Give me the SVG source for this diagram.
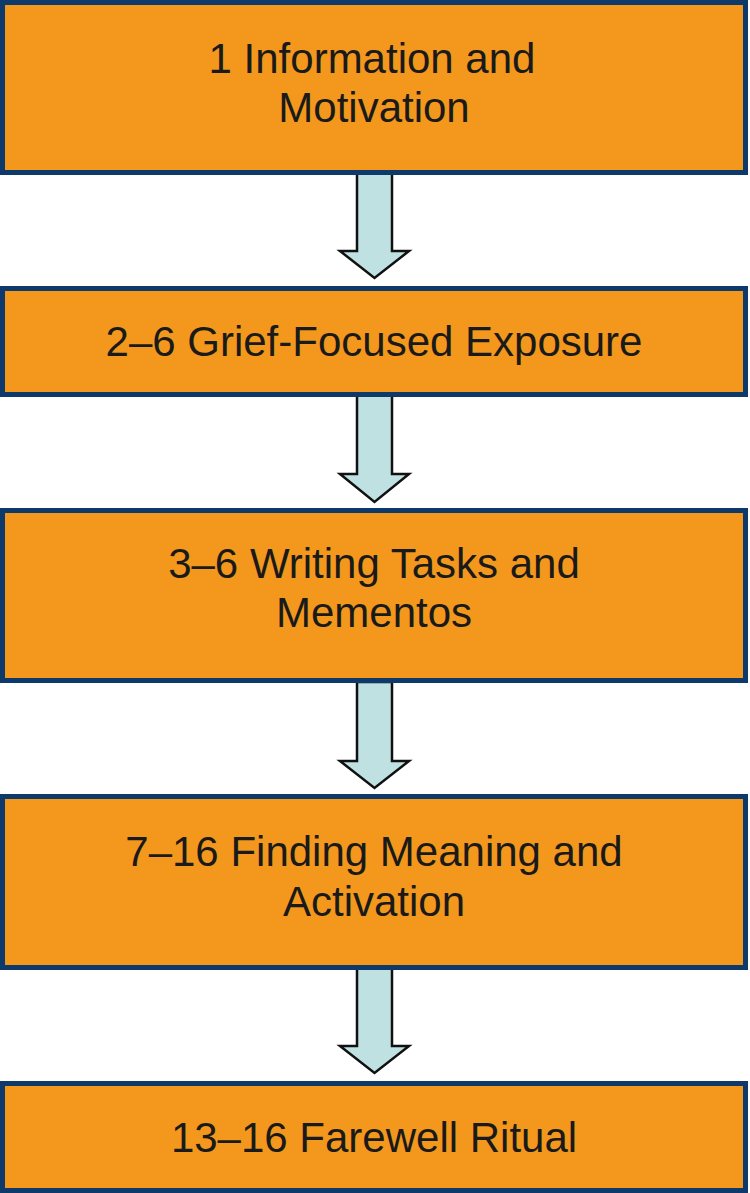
<svg xmlns="http://www.w3.org/2000/svg" width="750" height="1193" viewBox="0 0 750 1193">
<style>
.box{fill:#F3981D;stroke:#0D3A6B;stroke-width:5}
.lbl{font-family:"Liberation Sans",Arial,sans-serif;font-size:42px;fill:#1a1a1a;text-anchor:middle}
.arr{fill:#BFE1E1;stroke:#111;stroke-width:2.5;stroke-linejoin:miter}
</style>
<rect x="0" y="0" width="750" height="1193" fill="#ffffff"/>
<g id="connectors">
<polygon class="arr" points="357,172 392,172 392,251 409,251 374.5,278 340,251 357,251"/>
<polygon class="arr" points="357,395 392,395 392,474 409,474 374.5,502 340,474 357,474"/>
<polygon class="arr" points="357,682 392,682 392,761 409,761 374.5,788 340,761 357,761"/>
<polygon class="arr" points="357,968 392,968 392,1046 409,1046 374.5,1073 340,1046 357,1046"/>
</g>
<g id="node1">
<rect class="box" x="2.5" y="2.5" width="743" height="170"/>
<text class="lbl" x="372" y="73">1 Information and</text>
<text class="lbl" x="374" y="122">Motivation</text>
</g>
<g id="node2">
<rect class="box" x="2.5" y="288.5" width="743" height="106"/>
<text class="lbl" x="374" y="356">2–6 Grief-Focused Exposure</text>
</g>
<g id="node3">
<rect class="box" x="2.5" y="510.5" width="743" height="170"/>
<text class="lbl" x="374" y="578">3–6 Writing Tasks and</text>
<text class="lbl" x="374" y="627">Mementos</text>
</g>
<g id="node4">
<rect class="box" x="2.5" y="796.5" width="743" height="171"/>
<text class="lbl" x="374" y="866">7–16 Finding Meaning and</text>
<text class="lbl" x="374" y="916">Activation</text>
</g>
<g id="node5">
<rect class="box" x="2.5" y="1083.5" width="743" height="107"/>
<text class="lbl" x="374" y="1152">13–16 Farewell Ritual</text>
</g>
</svg>
